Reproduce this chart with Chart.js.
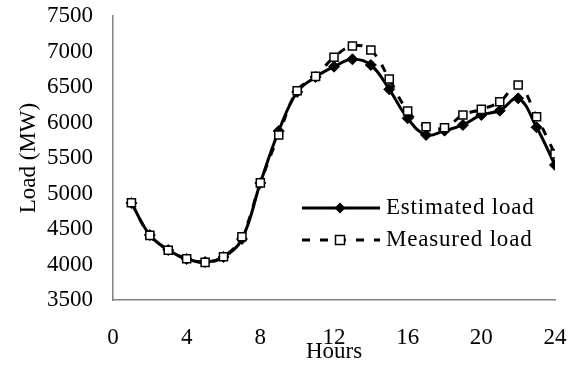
<!DOCTYPE html>
<html>
<head>
<meta charset="utf-8">
<script src="https://cdn.jsdelivr.net/npm/chart.js@4/dist/chart.umd.min.js"></script>
<style>
  html, body { margin: 0; padding: 0; background: #fff; }
  #wrap { width: 575px; height: 372px; }
</style>
</head>
<body>
<div id="wrap"><canvas id="chart" width="575" height="372"></canvas></div>
<script>
const hours = [1, 2, 3, 4, 5, 6, 7, 8, 9, 10, 11, 12, 13, 14, 15, 16, 17, 18, 19, 20, 21, 22, 23, 24];
const estimatedLoad = [4866, 4415, 4204, 4077, 4035, 4106, 4359, 5148, 5880, 6430, 6641, 6786, 6890, 6810, 6467, 6059, 5824, 5885, 5965, 6106, 6167, 6340, 5932, 5401];
const measuredLoad = [4870, 4410, 4200, 4080, 4030, 4110, 4392, 5150, 5824, 6448, 6650, 6918, 7077, 7021, 6613, 6162, 5941, 5925, 6106, 6185, 6293, 6528, 6082, 5556];
const xTicks = [0, 4, 8, 12, 16, 20, 24];
const seriesNames = ['Estimated load', 'Measured load'];

const font = 'Liberation Serif, Times New Roman, serif';

// legend drawn inside the plot, like the original
const legendInside = {
  id: 'legendInside',
  afterDraw(chart) {
    const ctx = chart.ctx;
    ctx.save();
    ctx.fillStyle = '#000';
    ctx.strokeStyle = '#000';
    ctx.lineWidth = 3;
    // estimated
    ctx.beginPath();
    ctx.moveTo(302, 208);
    ctx.lineTo(380, 208);
    ctx.stroke();
    ctx.beginPath();
    ctx.moveTo(340, 202.5); ctx.lineTo(345.5, 208); ctx.lineTo(340, 213.5); ctx.lineTo(334.5, 208);
    ctx.closePath();
    ctx.fill();
    // measured
    ctx.setLineDash([8, 10]);
    ctx.beginPath();
    ctx.moveTo(302, 240);
    ctx.lineTo(380, 240);
    ctx.stroke();
    ctx.setLineDash([]);
    ctx.lineWidth = 1.5;
    ctx.fillStyle = '#fff';
    ctx.fillRect(335.5, 235.5, 9, 9);
    ctx.strokeRect(335.5, 235.5, 9, 9);
    ctx.fillStyle = '#000';
    ctx.font = '23px ' + font;
    ctx.letterSpacing = '0.8px';
    ctx.textBaseline = 'middle';
    ctx.fillText(seriesNames[0], 386, 208);
    ctx.fillText(seriesNames[1], 386, 240);
    ctx.restore();
  }
};

new Chart(document.getElementById('chart'), {
  type: 'line',
  data: {
    datasets: [
      {
        label: seriesNames[1],
        data: hours.map((h, i) => ({ x: h, y: measuredLoad[i] })),
        borderColor: '#000',
        borderWidth: 3,
        borderDash: [8, 10],
        tension: 0.4,
        pointStyle: 'rect',
        pointRadius: 5.7,
        pointBackgroundColor: '#fff',
        pointBorderColor: '#000',
        pointBorderWidth: 1.5,
        fill: false
      },
      {
        label: seriesNames[0],
        data: hours.map((h, i) => ({ x: h, y: estimatedLoad[i] })),
        borderColor: '#000',
        borderWidth: 3,
        tension: 0.4,
        pointStyle: 'rectRot',
        pointRadius: 5.5,
        pointBackgroundColor: '#000',
        pointBorderColor: '#000',
        pointBorderWidth: 1,
        fill: false
      }
    ]
  },
  options: {
    responsive: false,
    animation: false,
    layout: { padding: { left: 0, right: 20, top: 16, bottom: 0 } },
    plugins: {
      legend: { display: false },
      tooltip: { enabled: false }
    },
    scales: {
      x: {
        type: 'linear',
        min: 0,
        max: 24,
        afterBuildTicks: (scale) => { scale.ticks = xTicks.map(v => ({ value: v })); },
        afterFit: (scale) => { scale.height = 72; scale.paddingLeft = 0; scale.paddingRight = 0; },
        grid: { display: false, drawOnChartArea: false, drawTicks: true, tickLength: 7, color: '#808080' },
        border: { color: '#808080', width: 1.5 },
        ticks: { color: '#000', font: { family: font, size: 23 }, padding: 17, maxRotation: 0, callback: (v) => String(v) },
        title: { display: true, text: 'Hours', color: '#000', font: { family: font, size: 23 }, padding: { top: 0, bottom: 6 } }
      },
      y: {
        min: 3500,
        max: 7500,
        afterFit: (scale) => { scale.width = 113; scale.paddingTop = 0; scale.paddingBottom = 0; },
        grid: { display: false, drawOnChartArea: false, drawTicks: true, tickLength: 6, color: '#808080' },
        border: { color: '#808080', width: 1.5 },
        ticks: { stepSize: 500, color: '#000', font: { family: font, size: 23 }, padding: 14, callback: (v) => String(v) },
        title: { display: true, text: 'Load (MW)', color: '#000', font: { family: font, size: 23 }, padding: { top: 15, bottom: 0 } }
      }
    }
  },
  plugins: [legendInside]
});
</script>
</body>
</html>
